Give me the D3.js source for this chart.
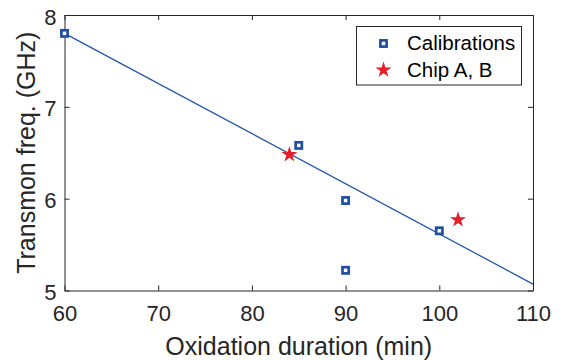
<!DOCTYPE html>
<html>
<head>
<meta charset="utf-8">
<script src="https://cdn.jsdelivr.net/npm/d3@7"></script>
<style>
  html, body { margin: 0; padding: 0; background: #fff; }
  svg { display: block; font-family: "Liberation Sans", Arial, sans-serif; }
</style>
</head>
<body>
<svg id="chart" width="562" height="360"></svg>
<script>
// Calibration samples: oxidation time (min) vs. measured transmon frequency (GHz)
const calibMinutes = [60, 85, 90, 90, 100];
const calibFreq    = [7.80, 6.58, 5.98, 5.22, 5.65];

// Devices fabricated from the calibration
const chipMinutes = [84, 102];
const chipFreq    = [6.48, 5.77];

// Linear fit through the calibration points
const fitMinutes = [60, 110];
const fitFreq    = [7.80, 5.07];

const xTicks = [60, 70, 80, 90, 100, 110];
const yTicks = [5, 6, 7, 8];

const seriesNames = ["Calibrations", "Chip A, B"];

const blue = "#1f4fa3";
const lineBlue = "#2257ad";
const red = "#e4202b";
const axisColor = "#262626";

const svg = d3.select("#chart");

const plot = { left: 64.5, right: 533, top: 15, bottom: 290.5 };

const x = d3.scaleLinear().domain([60, 110]).range([plot.left, plot.right]);
const y = d3.scaleLinear().domain([5, 8]).range([plot.bottom, plot.top]);

const tickLen = 5;

// Axes (box style, inward ticks on all sides)
const axisBottom = d3.axisBottom(x).tickValues(xTicks).tickSizeInner(-tickLen).tickSizeOuter(0).tickPadding(0).tickFormat(d3.format("d"));
const axisTop = d3.axisTop(x).tickValues(xTicks).tickSizeInner(-tickLen).tickSizeOuter(0).tickFormat("");
const axisLeft = d3.axisLeft(y).tickValues(yTicks).tickSizeInner(-tickLen).tickSizeOuter(0).tickFormat(d3.format("d"));
const axisRight = d3.axisRight(y).tickValues(yTicks).tickSizeInner(-tickLen).tickSizeOuter(0).tickFormat("");

function styleAxis(g) {
  g.select(".domain").attr("stroke", axisColor).attr("stroke-width", 1);
  g.selectAll(".tick line").attr("stroke", axisColor).attr("stroke-width", 1);
  g.selectAll(".tick text").attr("fill", axisColor).style("font-size", "22px");
}

const gB = svg.append("g").attr("transform", `translate(0,${plot.bottom})`).call(axisBottom).call(styleAxis);
gB.selectAll(".tick text").attr("dy", null).attr("y", 30);
svg.append("g").attr("transform", `translate(0,${plot.top})`).call(axisTop).call(styleAxis);
const gL = svg.append("g").attr("transform", `translate(${plot.left},0)`).call(axisLeft).call(styleAxis);
gL.selectAll(".tick text").attr("x", -8).attr("dy", null).attr("y", 9);
svg.append("g").attr("transform", `translate(${plot.right},0)`).call(axisRight).call(styleAxis);

svg.selectAll("path.domain").attr("fill", "none");

// Fit line
const line = d3.line().x(d => x(d[0])).y(d => y(d[1]));
svg.append("path")
  .datum(d3.zip(fitMinutes, fitFreq))
  .attr("d", line)
  .attr("fill", "none")
  .attr("stroke", lineBlue)
  .attr("stroke-width", 1.3);

// Calibration markers (hollow squares)
const sq = 6.2;
svg.append("g").selectAll("rect")
  .data(d3.zip(calibMinutes, calibFreq))
  .join("rect")
  .attr("x", d => x(d[0]) - sq / 2)
  .attr("y", d => y(d[1]) - sq / 2)
  .attr("width", sq)
  .attr("height", sq)
  .attr("fill", "#fff")
  .attr("stroke", blue)
  .attr("stroke-width", 2.7);

// Chip markers (stars)
const star = d3.symbol().type(d3.symbolStar).size(80);
svg.append("g").selectAll("path")
  .data(d3.zip(chipMinutes, chipFreq))
  .join("path")
  .attr("d", star)
  .attr("transform", d => `translate(${x(d[0])},${y(d[1])})`)
  .attr("fill", red);

// Axis titles
svg.append("text")
  .attr("x", (plot.left + plot.right) / 2)
  .attr("y", 355)
  .attr("text-anchor", "middle")
  .attr("fill", axisColor)
  .style("font-size", "25px")
  .text("Oxidation duration (min)");

svg.append("text")
  .attr("transform", `translate(35,${(plot.top + plot.bottom) / 2}) rotate(-90)`)
  .attr("text-anchor", "middle")
  .attr("fill", axisColor)
  .style("font-size", "25px")
  .text("Transmon freq. (GHz)");

// Legend
const legend = svg.append("g");
legend.append("rect")
  .attr("x", 356.5).attr("y", 26.5)
  .attr("width", 165).attr("height", 58.5)
  .attr("fill", "#fff")
  .attr("stroke", axisColor)
  .attr("stroke-width", 1);

legend.append("rect")
  .attr("x", 383.5 - sq / 2).attr("y", 43.5 - sq / 2)
  .attr("width", sq).attr("height", sq)
  .attr("fill", "#fff").attr("stroke", blue).attr("stroke-width", 2.7);

legend.append("path")
  .attr("d", star)
  .attr("transform", "translate(383.5,70)")
  .attr("fill", red);

legend.selectAll("text.item")
  .data(seriesNames)
  .join("text")
  .attr("class", "item")
  .attr("x", 407)
  .attr("y", (d, i) => 50 + i * 27)
  .attr("fill", "#000")
  .style("font-size", "20.5px")
  .text(d => d);
</script>
</body>
</html>
